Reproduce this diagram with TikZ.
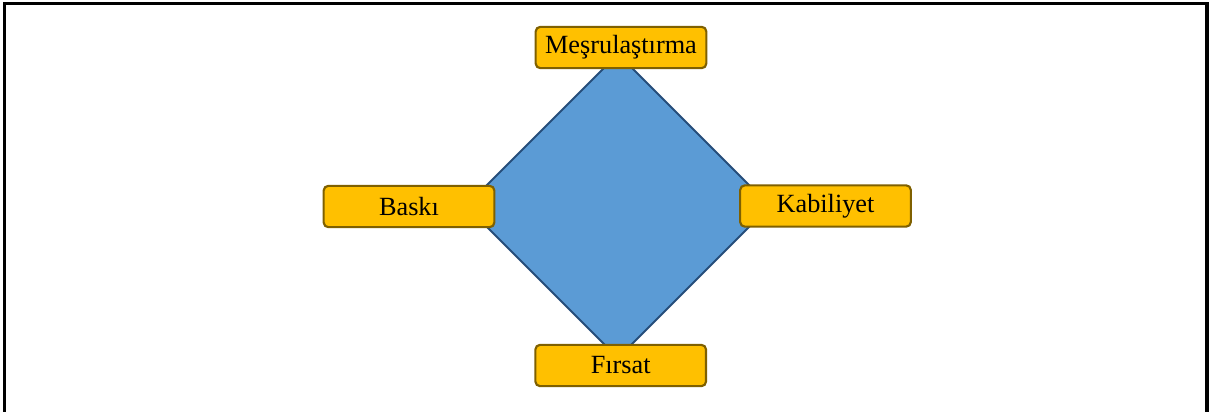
\documentclass[tikz,border=0pt]{standalone}
\usepackage{fontspec}
\setmainfont{Liberation Serif}
\usetikzlibrary{shapes.geometric}
\definecolor{boxfill}{HTML}{FFC000}
\definecolor{boxline}{HTML}{7F6000}
\definecolor{diafill}{HTML}{5B9BD5}
\definecolor{dialine}{HTML}{264D7A}
\tikzset{
  labelbox/.style={draw=boxline, fill=boxfill, line width=1.6pt, rounded corners=3.5pt,
    minimum width=128pt, minimum height=31pt, inner sep=0pt,
    font=\fontsize{19.7}{24}\selectfont, text=black},
  core/.style={draw=dialine, fill=diafill, line width=1.5pt, shape=diamond, aspect=1,
    minimum width=228pt, minimum height=228pt, inner sep=0pt, outer sep=0pt}
}
\begin{document}
\begin{tikzpicture}[x=0.75pt, y=-0.75pt]
  \useasboundingbox (0,0) rectangle (1220,411);
  \clip (0,0) rectangle (1220,411);
  % outer frame, open at the bottom edge of the page
  \draw[line width=2.4pt, black] (4.3,3.4) rectangle (1207,440);
  % central diamond
  \node[core] (d) at (618,206) {};
  % the four labels on its corners
  \node[labelbox] (top) at (621,47.5) {Meşrulaştırma};
  \node[labelbox] (left) at (409,206.5) {Baskı};
  \node[labelbox] (right) at (825.5,206) {Kabiliyet};
  \node[labelbox] (bottom) at (620.7,365.5) {Fırsat};
\end{tikzpicture}
\end{document}
